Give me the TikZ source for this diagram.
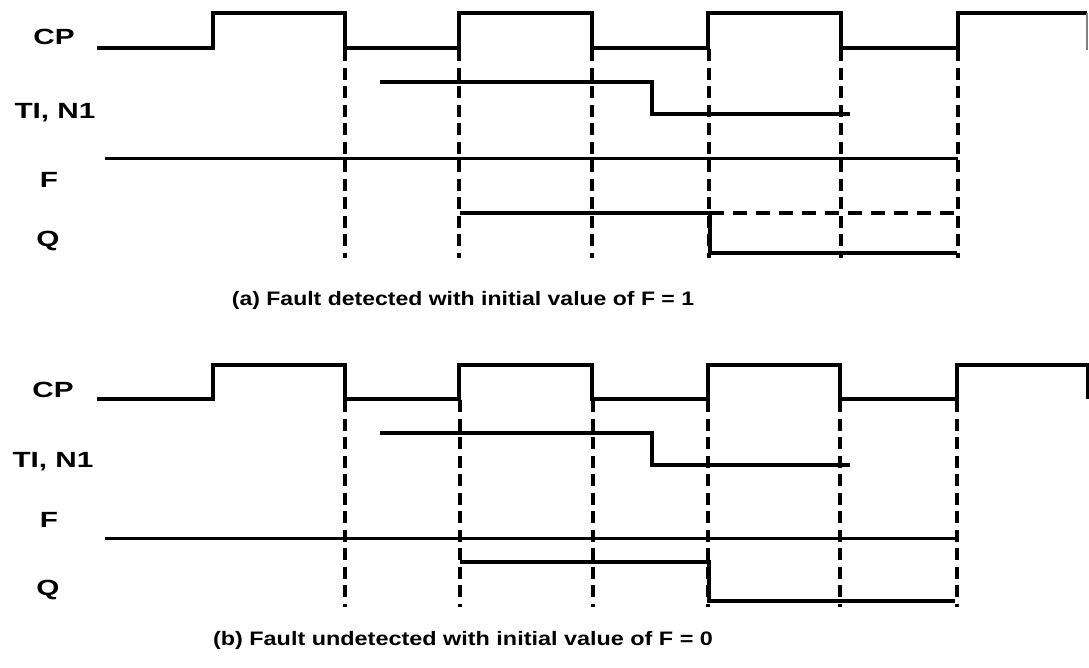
\documentclass[tikz,border=0pt]{standalone}
\usepackage{fontspec}
\setmainfont{Liberation Sans}
\tikzset{
  sig/.style={line width=3.4pt, line join=miter},
  fsig/.style={line width=3pt},
  tsig/.style={line width=3.2pt},
  clk/.style={line width=3.4pt, dash pattern=on 12pt off 6.5pt},
  dsig/.style={line width=3.1pt, dash pattern=on 14pt off 9pt},
  lbl/.style={anchor=base, inner sep=0pt, font=\fontsize{22}{24}\selectfont\bfseries},
  captext/.style={anchor=base, inner sep=0pt, font=\fontsize{19.5}{22}\selectfont\bfseries},
}
\newcommand{\sx}[2]{\scalebox{#1}[1]{#2}}
\begin{document}
\begin{tikzpicture}[x=1pt,y=-1pt]
\useasboundingbox (0,0) rectangle (1089,667);
% ---------- panel (a) ----------
\node[lbl] (cpa) at (54,44) {\sx{1.35}{CP}};
\node[lbl] (tia) at (55,118) {\sx{1.35}{TI, N1}};
\node[lbl] (fa) at (49,187) {\sx{1.35}{F}};
\node[lbl] (qa) at (48,246) {\sx{1.35}{Q}};
\foreach \x in {345,459,592,709,841,958}
  \draw[clk] (\x,49) -- (\x,258);
\draw[sig] (97,48) -- (213,48) -- (213,13) -- (345,13) -- (345,48) -- (459,48) -- (459,13) -- (592,13) -- (592,48) -- (708,48) -- (708,13) -- (841,13) -- (841,48) -- (958,48) -- (958,13) -- (1087,13);
\draw[line width=1.2pt, gray] (1087,13) -- (1087,50);
\draw[tsig] (380,82) -- (652,82) -- (652,114) -- (850,114);
\draw[fsig] (105,158) -- (958,158);
\draw[sig] (460,213) -- (710,213) -- (710,253) -- (957,253);
\draw[dsig] (710,213) -- (958,213) -- (958,225);
\node[captext] (capa) at (463,305) {\sx{1.18}{(a) Fault detected with initial value of F = 1}};
% ---------- panel (b) ----------
\node[lbl] (cpb) at (53,397) {\sx{1.35}{CP}};
\node[lbl] (tib) at (53,467) {\sx{1.35}{TI, N1}};
\node[lbl] (fb) at (49,527) {\sx{1.35}{F}};
\node[lbl] (qb) at (48,595) {\sx{1.35}{Q}};
\foreach \x in {345,460,593,708,840,957}
  \draw[clk] (\x,400) -- (\x,607);
\draw[sig] (97,399) -- (213,399) -- (213,365) -- (345,365) -- (345,399) -- (459,399) -- (459,365) -- (592,365) -- (592,399) -- (708,399) -- (708,365) -- (840,365) -- (840,399) -- (957,399) -- (957,365) -- (1088,365) -- (1088,399);
\draw[tsig] (380,433) -- (652,433) -- (652,465) -- (850,465);
\draw[fsig] (105,538) -- (958,538);
\draw[sig] (460,562) -- (709,562) -- (709,601) -- (955,601);
\node[captext] (capb) at (463,645) {\sx{1.2}{(b) Fault undetected with initial value of F = 0}};
\end{tikzpicture}
\end{document}
